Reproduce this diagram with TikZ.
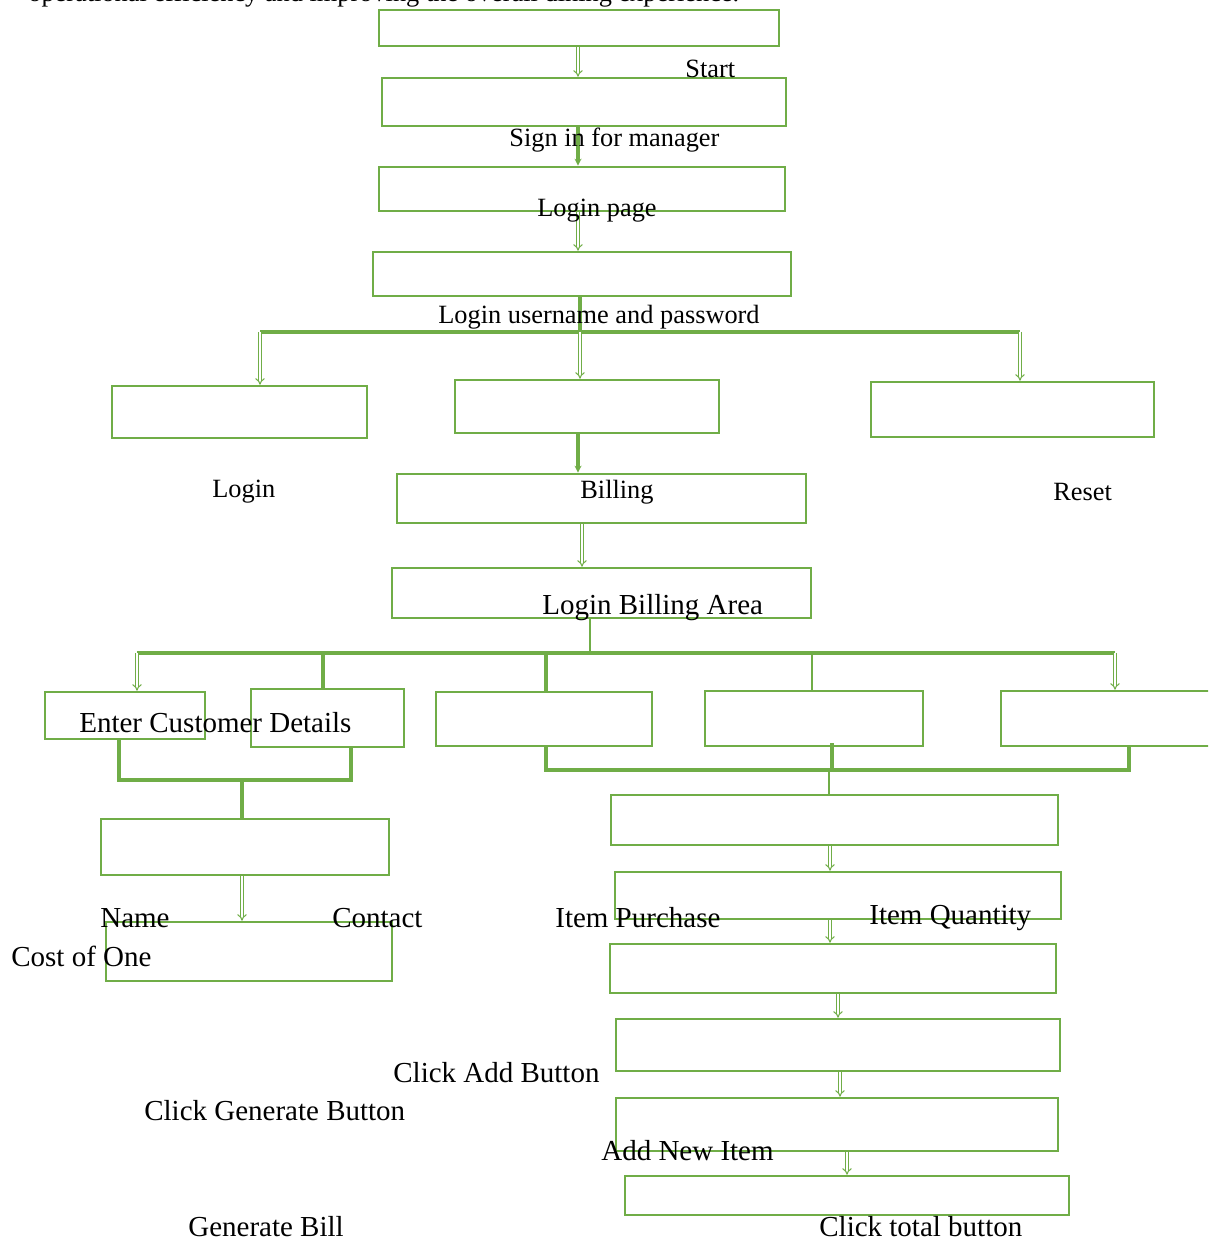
\documentclass[tikz,border=0pt]{standalone}
\usepackage{fontspec}
\setmainfont{Liberation Serif}
\usetikzlibrary{arrows.meta, calc, fit}
\definecolor{grn}{RGB}{112,173,71}

\begin{document}
\begin{tikzpicture}[x=0.02cm, y=-0.02cm,
        box/.style={draw=grn, line width=1.5pt, inner sep=0pt},
        lbl/.style={inner sep=0pt, anchor=west, font=\fontsize{15}{18}\selectfont},
        lblbig/.style={lbl, font=\fontsize{16.5}{20}\selectfont},
        link/.style={draw=grn, line width=1.9pt},
        slim/.style={draw=grn, line width=1.2pt},
        dbl/.style={draw=grn, line width=0.6pt, double=white, double distance=1.2pt, -{Implies}},
        sarr/.style={link, -{Stealth[length=4pt, width=4pt]}}]
        \useasboundingbox (0,0) rectangle (1208,1239);
        \clip (0,0) rectangle (1208,1239);

        % boxes
        \node[box, fit={(379,10) (779,46)}] (bStart) {};
        \node[box, fit={(382,78) (786,126)}] (bSign) {};
        \node[box, fit={(379,167) (785,211)}] (bPage) {};
        \node[box, fit={(373,252) (791,296)}] (bUser) {};
        \node[box, fit={(112,386) (367,438)}] (bLogin) {};
        \node[box, fit={(455,380) (719,433)}] (bBilling) {};
        \node[box, fit={(871,382) (1154,437)}] (bReset) {};
        \node[box, fit={(397,474) (806,523)}] (bBill) {};
        \node[box, fit={(392,568) (811,618)}] (bArea) {};
        \node[box, fit={(45,692) (205,739)}] (bCust1) {};
        \node[box, fit={(251,689) (404,747)}] (bCust2) {};
        \node[box, fit={(436,692) (652,746)}] (bItem1) {};
        \node[box, fit={(705,691) (923,746)}] (bItem2) {};
        \node[box, fit={(1001,691) (1230,746)}] (bItem3) {};
        \node[box, fit={(101,819) (389,875)}] (bName) {};
        \node[box, fit={(106,922) (392,981)}] (bCost) {};
        \node[box, fit={(611,795) (1058,845)}] (bPurchase) {};
        \node[box, fit={(615,872) (1061,919)}] (bQuantity) {};
        \node[box, fit={(610,944) (1056,993)}] (bAdd) {};
        \node[box, fit={(616,1019) (1060,1071)}] (bNew) {};
        \node[box, fit={(616,1098) (1058,1151)}] (bGen) {};
        \node[box, fit={(625,1176) (1069,1215)}] (bTotal) {};

        % junctions
        \coordinate (j1) at (580,332);
        \coordinate (j1l) at (260,332);
        \coordinate (j1r) at (1020,332);
        \coordinate (j2) at (590,653);
        \coordinate (j2l) at (137,653);
        \coordinate (j2r) at (1115,653);
        \coordinate (j3l) at (119,780);
        \coordinate (j3) at (242,780);
        \coordinate (j3r) at (351,780);
        \coordinate (j4l) at (546,770);
        \coordinate (j4) at (829,770);
        \coordinate (j4r) at (1129,770);

        % connectors
        \draw[dbl] (578,0 |- bStart.south) -- (578,0 |- bSign.north);
        \draw[sarr] (578,0 |- bSign.south) -- (578,0 |- bPage.north);
        \draw[dbl] (578,0 |- bPage.south) -- (578,0 |- bUser.north);
        \draw[link] (580,0 |- bUser.south) -- (j1);
        \draw[link] (j1l) -- (j1r);
        \draw[dbl] (j1l) -- (260,0 |- bLogin.north);
        \draw[dbl] (j1) -- (580,0 |- bBilling.north);
        \draw[dbl] (j1r) -- (1020,0 |- bReset.north);
        \draw[sarr] (578,0 |- bBilling.south) -- (578,0 |- bBill.north);
        \draw[dbl] (582,0 |- bBill.south) -- (582,0 |- bArea.north);
        \draw[slim] (590,0 |- bArea.south) -- (j2);
        \draw[link] (j2l) -- (j2r);
        \draw[dbl] (j2l) -- (137,0 |- bCust1.north);
        \draw[link] (323,653) -- (323,0 |- bCust2.north);
        \draw[link] (546,653) -- (546,0 |- bItem1.north);
        \draw[slim] (812,653) -- (812,0 |- bItem2.north);
        \draw[dbl] (j2r) -- (1115,0 |- bItem3.north);
        \draw[link] (119,0 |- bCust1.south) -- (j3l) -- (j3r) -- (351,0 |- bCust2.south);
        \draw[link] (j3) -- (242,0 |- bName.north);
        \draw[dbl] (242,0 |- bName.south) -- (242,0 |- bCost.north);
        \draw[link] (546,0 |- bItem1.south) -- (j4l) -- (j4r) -- (1129,0 |- bItem3.south);
        \draw[link] (832,743) -- (832,770);
        \draw[slim] (j4) -- (829,0 |- bPurchase.north);
        \draw[dbl] (830,0 |- bPurchase.south) -- (830,0 |- bQuantity.north);
        \draw[dbl] (830,0 |- bQuantity.south) -- (830,0 |- bAdd.north);
        \draw[dbl] (838,0 |- bAdd.south) -- (838,0 |- bNew.north);
        \draw[dbl] (840,0 |- bNew.south) -- (840,0 |- bGen.north);
        \draw[dbl] (847,0 |- bGen.south) -- (847,0 |- bTotal.north);

        % labels
        \node[lbl, anchor=base west] (intro) at (28,2) {operational efficiency and improving the overall dining experience.};
        \node[lbl] (tStart) at (685,69) {Start};
        \node[lbl] (tSign) at (509,140) {Sign in for manager};
        \node[lbl] (tPage) at (537,211) {Login page};
        \node[lbl] (tUser) at (438,317) {Login username and password};
        \node[lbl] (tLogin) at (212,492) {Login};
        \node[lbl] (tBilling) at (580,492) {Billing};
        \node[lbl] (tReset) at (1053,492) {Reset};
        \node[lblbig] (tArea) at (542,608) {Login Billing Area};
        \node[lblbig] (tCust) at (79,723) {Enter Customer Details};
        \node[lblbig] (tName) at (100,918) {Name};
        \node[lblbig] (tContact) at (332,918) {Contact};
        \node[lblbig] (tPurchase) at (555,918) {Item Purchase};
        \node[lblbig] (tQuantity) at (869,918) {Item Quantity};
        \node[lblbig] (tCost) at (11,956) {Cost of One};
        \node[lblbig] (tAdd) at (393,1073) {Click Add Button};
        \node[lblbig] (tGen) at (144,1111) {Click Generate Button};
        \node[lblbig] (tNew) at (601,1151) {Add New Item};
        \node[lblbig] (tBillGen) at (188,1227) {Generate Bill};
        \node[lblbig] (tTotal) at (819,1227) {Click total button};
    \end{tikzpicture}
\end{document}
